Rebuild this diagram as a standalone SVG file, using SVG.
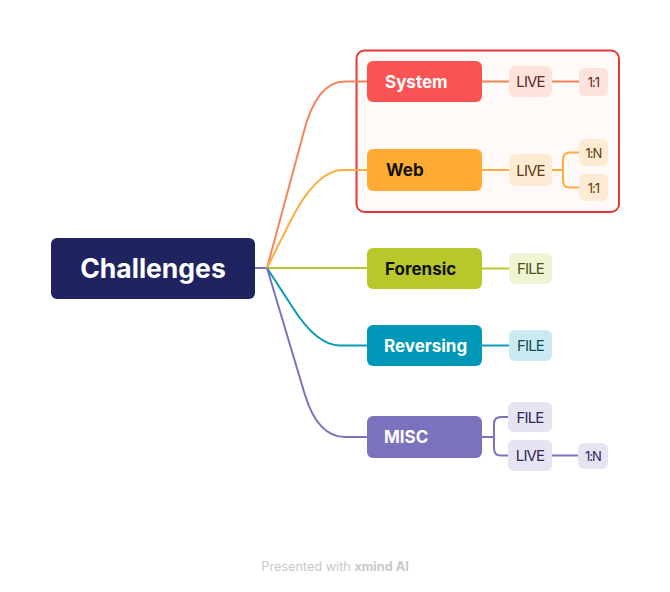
<svg xmlns="http://www.w3.org/2000/svg" width="670" height="592" viewBox="0 0 670 592">
  <style>
    text { font-family: Inter, "Noto Sans", "Liberation Sans", sans-serif; }
    .main { font-size: 17px; font-weight: 700; }
    .sub { font-size: 15px; font-weight: 400; text-anchor: middle; letter-spacing: -0.9px; }
    .tiny { font-size: 13px; font-weight: 400; text-anchor: middle; letter-spacing: -1px; }
    .conn path { fill: none; stroke-width: 2; }
  </style>
  <rect width="670" height="592" fill="#ffffff"/>

  <!-- boundary around the live-hosted categories -->
  <g id="boundary">
    <rect x="356.5" y="50.5" width="262.5" height="161.5" rx="8" fill="#fff9f8" stroke="#e2383a" stroke-width="2"/>
  </g>

  <g class="conn" id="connectors">
    <path d="M255,268 H267" stroke="#7c76c0"/>
    <path d="M267,268 L303,135 Q316,81.5 345,81.5 H367" stroke="#f6845a"/>
    <path d="M267,268 L290,222 Q316,170 343,170 H367" stroke="#ffae3c"/>
    <path d="M267,268 H367" stroke="#b8c82a"/>
    <path d="M267,268 L293,308 Q317,345.5 340,345.5 H367" stroke="#0b99b8"/>
    <path d="M267,268 L305,395 Q318,437 345,437 H367" stroke="#7a72bd"/>

    <path d="M482,81.5 H509 M552,81.5 H579" stroke="#f6845a"/>
    <path d="M482,170 H509 M552,170 H563" stroke="#ffae3c"/>
    <path d="M579,152.5 H570 Q563,152.5 563,159.5 V180.5 Q563,187.5 570,187.5 H579" stroke="#ffae3c"/>
    <path d="M482,268.5 H509" stroke="#b8c82a"/>
    <path d="M482,345.5 H509" stroke="#0b99b8"/>
    <path d="M482,437 H494" stroke="#7a72bd"/>
    <path d="M508,417 H501 Q494,417 494,424 V448.5 Q494,455.5 501,455.5 H508 M552,455.5 H578" stroke="#7a72bd"/>
  </g>

  <g id="root">
    <rect x="51" y="238" width="204" height="61" rx="6" fill="#1f2461"/>
    <text x="153" y="278" font-size="26.5" font-weight="700" fill="#ffffff" text-anchor="middle">Challenges</text>
  </g>

  <g id="system">
    <rect x="367" y="61" width="115" height="41" rx="6" fill="#f95354"/>
    <text class="main" x="385" y="87.5" fill="#ffffff">System</text>
  </g>
  <g id="system-live">
    <rect x="509" y="66" width="43" height="31" rx="6" fill="#fde3dc"/>
    <text class="sub" x="530.5" y="87" fill="#5a2b1c">LIVE</text>
  </g>
  <g id="system-live-1to1">
    <rect x="579" y="68" width="29" height="28" rx="6" fill="#fde3dc"/>
    <text class="tiny" x="593.5" y="86.5" fill="#5a2b1c">1:1</text>
  </g>

  <g id="web">
    <rect x="367" y="149" width="115" height="42" rx="6" fill="#ffab34"/>
    <text class="main" x="386" y="176" fill="#111111">Web</text>
  </g>
  <g id="web-live">
    <rect x="509" y="154" width="43" height="32" rx="6" fill="#fdebd3"/>
    <text class="sub" x="530.5" y="175.5" fill="#5c3a10">LIVE</text>
  </g>
  <g id="web-live-1toN">
    <rect x="579" y="139" width="29" height="27" rx="6" fill="#fdebd3"/>
    <text class="tiny" x="593.5" y="157.5" fill="#5c3a10">1:N</text>
  </g>
  <g id="web-live-1to1">
    <rect x="579" y="174" width="29" height="27" rx="6" fill="#fdebd3"/>
    <text class="tiny" x="593.5" y="192.5" fill="#5c3a10">1:1</text>
  </g>

  <g id="forensic">
    <rect x="367" y="248" width="115" height="41" rx="6" fill="#b8c82a"/>
    <text class="main" x="385" y="274.5" fill="#111111">Forensic</text>
  </g>
  <g id="forensic-file">
    <rect x="509" y="253" width="43" height="31" rx="6" fill="#eff4d4"/>
    <text class="sub" x="530.5" y="274" fill="#4a5214">FILE</text>
  </g>

  <g id="reversing">
    <rect x="367" y="325" width="115" height="41" rx="6" fill="#0098b8"/>
    <text class="main" x="384" y="351.5" fill="#ffffff">Reversing</text>
  </g>
  <g id="reversing-file">
    <rect x="509" y="330" width="43" height="31" rx="6" fill="#cbe9f1"/>
    <text class="sub" x="530.5" y="351" fill="#0d4a5a">FILE</text>
  </g>

  <g id="misc">
    <rect x="367" y="416" width="115" height="42" rx="6" fill="#7a72bd"/>
    <text class="main" x="384" y="443" fill="#ffffff">MISC</text>
  </g>
  <g id="misc-file">
    <rect x="508" y="402" width="44" height="30" rx="6" fill="#e6e4f2"/>
    <text class="sub" x="530" y="422.5" fill="#2d2858">FILE</text>
  </g>
  <g id="misc-live">
    <rect x="508" y="440" width="44" height="31" rx="6" fill="#e6e4f2"/>
    <text class="sub" x="530" y="461" fill="#2d2858">LIVE</text>
  </g>
  <g id="misc-live-1toN">
    <rect x="578" y="443" width="30" height="26" rx="6" fill="#e6e4f2"/>
    <text class="tiny" x="593" y="461" fill="#2d2858">1:N</text>
  </g>

  <text x="335" y="571" font-size="12.7" fill="#c9c9c9" text-anchor="middle">Presented with <tspan font-weight="700">xmind AI</tspan></text>
</svg>
